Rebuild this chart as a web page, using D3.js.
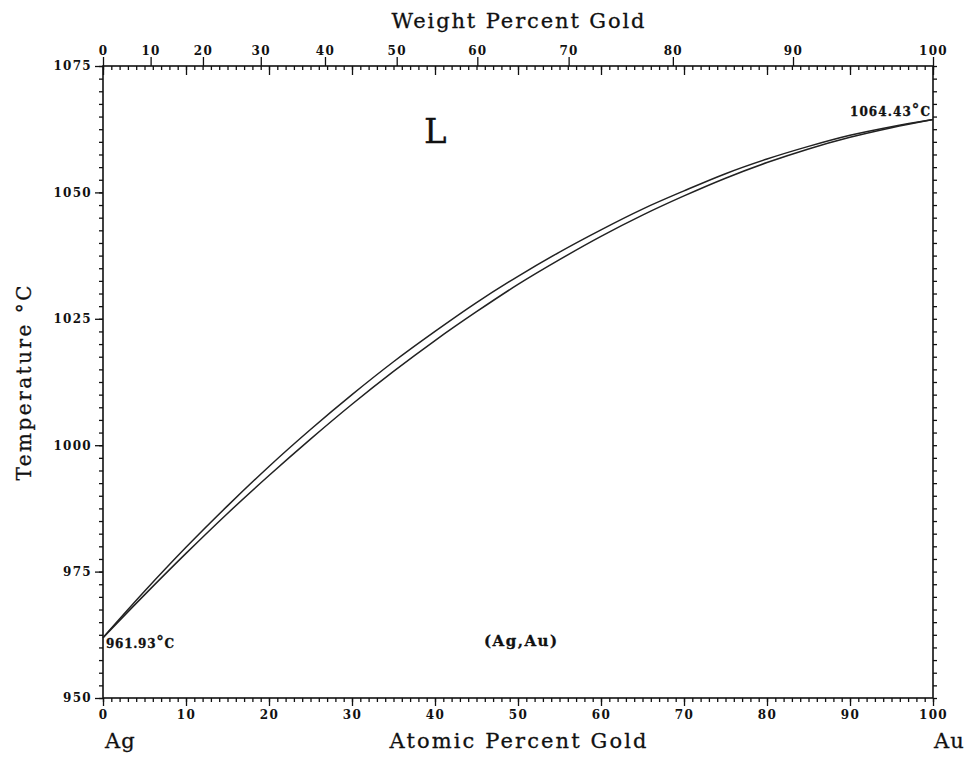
<!DOCTYPE html>
<html>
<head>
<meta charset="utf-8">
<script src="https://d3js.org/d3.v7.min.js"></script>
<style>
body { margin: 0; background: #fff; }
.tick text { font-family: "DejaVu Serif", serif; font-weight: bold; font-size: 12px; letter-spacing: 1.3px; fill: #111; }
.tick line { stroke: #111; stroke-width: 1.3; }
.lbl { font-family: "DejaVu Serif", serif; fill: #111; stroke: #111; stroke-width: 0.3; }
</style>
</head>
<body>
<div id="chart"></div>
<script>
// atomic percent gold, sampled along the curves
const atPct    = [0, 5, 10, 15, 20, 25, 30, 35, 40, 45, 50, 55, 60, 65, 70, 75, 80, 85, 90, 95, 100];
// liquidus (upper) and solidus (lower), deg C
const liquidus = [961.93, 971.1, 979.8, 988.0, 995.8, 1003.1, 1010.0, 1016.5, 1022.5, 1028.2, 1033.4,
                  1038.2, 1042.6, 1046.7, 1050.3, 1053.7, 1056.6, 1059.1, 1061.3, 1063.0, 1064.43];
const solidus  = [961.93, 970.4, 978.6, 986.5, 994.0, 1001.2, 1008.1, 1014.6, 1020.7, 1026.4, 1031.8,
                  1036.7, 1041.3, 1045.5, 1049.3, 1052.8, 1055.9, 1058.6, 1060.9, 1062.8, 1064.43];

const atTicks   = [0, 10, 20, 30, 40, 50, 60, 70, 80, 90, 100];
const wtTicks   = [0, 10, 20, 30, 40, 50, 60, 70, 80, 90, 100];
const tempTicks = [950, 975, 1000, 1025, 1050, 1075];

const width = 968, height = 761;
const M_AU = 196.967, M_AG = 107.868;

// weight % Au -> atomic % Au
function wtToAt(w) {
  const a = w / M_AU, b = (100 - w) / M_AG;
  return a + b === 0 ? 0 : 100 * a / (a + b);
}

const svg = d3.select("#chart").append("svg")
  .attr("width", width)
  .attr("height", height)
  .style("background", "#fff");

const x = d3.scaleLinear().domain([0, 100]).range([103, 933]);
const y = d3.scaleLinear().domain([950, 1075]).range([698, 66]);
// piecewise scale placing weight-% ticks at their atomic-% position
const xWt = d3.scaleLinear().domain(wtTicks).range(wtTicks.map(w => x(wtToAt(w))));

const minorAt = d3.range(0, 101, 1);
const minorT = d3.range(950, 1075.01, 2.5);
const fmt = d3.format("d");

// bottom axis
svg.append("g").attr("transform", "translate(0,698)")
  .call(d3.axisBottom(x).tickValues(minorAt).tickSize(4).tickFormat(""))
  .call(g => g.select(".domain").remove());
svg.append("g").attr("transform", "translate(0,698)")
  .call(d3.axisBottom(x).tickValues(atTicks).tickSize(8).tickPadding(4).tickFormat(fmt))
  .call(g => g.select(".domain").remove());

// top: atomic ticks inside, weight ticks outside with labels
svg.append("g").attr("transform", "translate(0,66)")
  .call(d3.axisBottom(x).tickValues(minorAt).tickSize(4).tickFormat(""))
  .call(g => g.select(".domain").remove());
svg.append("g").attr("transform", "translate(0,66)")
  .call(d3.axisBottom(x).tickValues(atTicks).tickSize(9).tickFormat(""))
  .call(g => g.select(".domain").remove());
svg.append("g").attr("transform", "translate(0,66)")
  .call(d3.axisTop(xWt).tickValues(wtTicks).tickSize(9).tickPadding(2).tickFormat(fmt))
  .call(g => g.select(".domain").remove());

// left axis
svg.append("g").attr("transform", "translate(103,0)")
  .call(d3.axisLeft(y).tickValues(minorT).tickSize(4).tickFormat(""))
  .call(g => g.select(".domain").remove());
svg.append("g").attr("transform", "translate(103,0)")
  .call(d3.axisLeft(y).tickValues(tempTicks).tickSize(8).tickPadding(3).tickFormat(fmt))
  .call(g => g.select(".domain").remove());

// right axis
svg.append("g").attr("transform", "translate(933,0)")
  .call(d3.axisRight(y).tickValues(minorT).tickSize(4).tickFormat(""))
  .call(g => g.select(".domain").remove());

// frame
svg.append("rect")
  .attr("x", x(0)).attr("y", y(1075))
  .attr("width", x(100) - x(0)).attr("height", y(950) - y(1075))
  .attr("fill", "none").attr("stroke", "#111").attr("stroke-width", 1.6);

// curves
const line = d3.line().curve(d3.curveCatmullRom)
  .x((d, i) => x(atPct[i]))
  .y(d => y(d));

[liquidus, solidus].forEach(s => {
  svg.append("path")
    .attr("d", line(s))
    .attr("fill", "none")
    .attr("stroke", "#222")
    .attr("stroke-width", 1.5);
});

// axis titles
svg.append("text").attr("class", "lbl")
  .attr("x", 518).attr("y", 28)
  .attr("text-anchor", "middle")
  .attr("font-size", 21)
  .attr("textLength", 253).attr("lengthAdjust", "spacing")
  .text("Weight Percent Gold");

svg.append("text").attr("class", "lbl")
  .attr("x", 518).attr("y", 748)
  .attr("text-anchor", "middle")
  .attr("font-size", 21)
  .attr("textLength", 257).attr("lengthAdjust", "spacing")
  .text("Atomic Percent Gold");

svg.append("text").attr("class", "lbl")
  .attr("x", 105).attr("y", 748)
  .attr("font-size", 21).attr("letter-spacing", 1)
  .text("Ag");

svg.append("text").attr("class", "lbl")
  .attr("x", 934).attr("y", 748)
  .attr("font-size", 21).attr("letter-spacing", 1)
  .text("Au");

svg.append("text").attr("class", "lbl")
  .attr("transform", "translate(31,383) rotate(-90)")
  .attr("text-anchor", "middle")
  .attr("font-size", 20)
  .attr("textLength", 195).attr("lengthAdjust", "spacing")
  .text("Temperature °C");

// phase labels
svg.append("text").attr("class", "lbl")
  .attr("x", 424).attr("y", 143)
  .attr("font-family", "Liberation Serif")
  .attr("font-size", 34).attr("stroke-width", 0.2)
  .text("L");

svg.append("text").attr("class", "lbl")
  .attr("x", 484).attr("y", 646)
  .attr("font-size", 15).attr("font-weight", "bold")
  .attr("stroke-width", 0)
  .attr("textLength", 73).attr("lengthAdjust", "spacing")
  .text("(Ag,Au)");

// melting point notes
const note = (tx, ty, val, len) => {
  const t = svg.append("text").attr("class", "lbl")
    .attr("x", tx).attr("y", ty)
    .attr("font-size", 12).attr("font-weight", "bold")
    .attr("stroke-width", 0.2)
    .attr("textLength", len).attr("lengthAdjust", "spacing");
  t.append("tspan").text(val);
  t.append("tspan").attr("font-size", 15).attr("dy", -1).text("°");
  t.append("tspan").attr("dy", 1).text("C");
};
note(106, 648, "961.93", 68);
note(850, 116, "1064.43", 80);
</script>
</body>
</html>
